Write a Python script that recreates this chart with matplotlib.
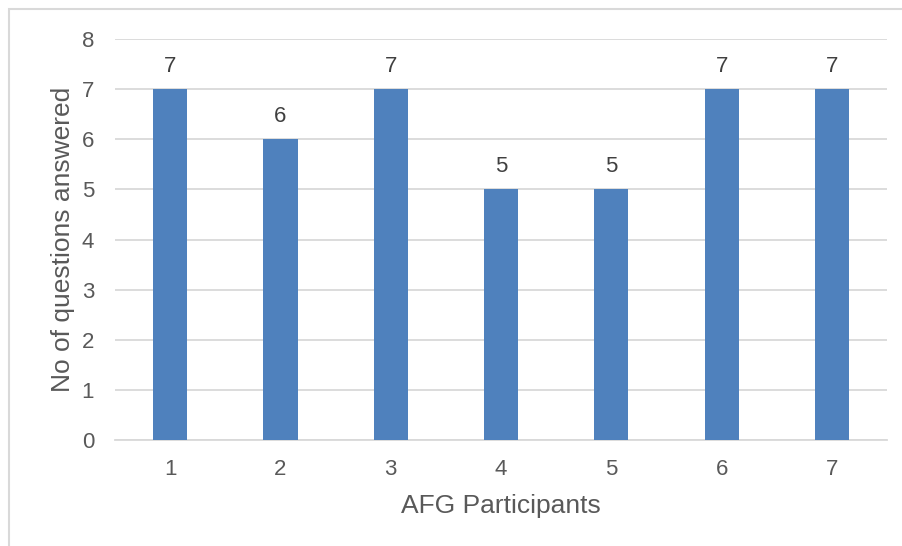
import matplotlib
matplotlib.use('Agg')
import matplotlib.pyplot as plt
from matplotlib.patches import Rectangle

participants = ['1', '2', '3', '4', '5', '6', '7']
answered = [7, 6, 7, 5, 5, 7, 7]
yticks = [0, 1, 2, 3, 4, 5, 6, 7, 8]

plt.rcParams['font.family'] = ['Liberation Sans', 'DejaVu Sans']
text_color = '#595959'
grid_color = '#D9D9D9'
bar_color = '#4F81BD'

fig = plt.figure(figsize=(9.03, 5.46), dpi=100)
ax = fig.add_axes([0.1274, 0.1941, 0.8549, 0.7345])

x = range(len(participants))
bars = ax.bar(x, answered, width=0.31, color=bar_color, zorder=3)
for rect, v in zip(bars, answered):
    ax.annotate(str(v), (rect.get_x() + rect.get_width() / 2, v),
                xytext=(0, 9), textcoords='offset points',
                ha='center', va='bottom', fontsize=16, color='#404040')

ax.set_xlim(-0.5, len(participants) - 0.5)
ax.set_ylim(0, 8)
ax.set_yticks(yticks)
ax.set_xticks(list(x))
ax.set_xticklabels(participants)
ax.yaxis.grid(True, color=grid_color, linewidth=1.3, zorder=0)
ax.set_axisbelow(True)
for s in ['top', 'right', 'left']:
    ax.spines[s].set_visible(False)
ax.spines['bottom'].set_color(grid_color)
ax.spines['bottom'].set_linewidth(1.3)
ax.tick_params(axis='both', length=0, labelsize=16, labelcolor=text_color)
ax.tick_params(axis='x', pad=14)
ax.tick_params(axis='y', pad=15)

ax.set_xlabel('AFG Participants', fontsize=19, color=text_color, labelpad=10)
ax.set_ylabel('No of questions answered', fontsize=19, color=text_color, labelpad=5)

# outer chart frame
fig.patches.append(Rectangle((9 / 903, -0.1), 1.1, 1 - 9 / 546 + 0.1,
                             transform=fig.transFigure, fill=False,
                             edgecolor=grid_color, linewidth=1.5))

fig.savefig('out.png', dpi=100)
